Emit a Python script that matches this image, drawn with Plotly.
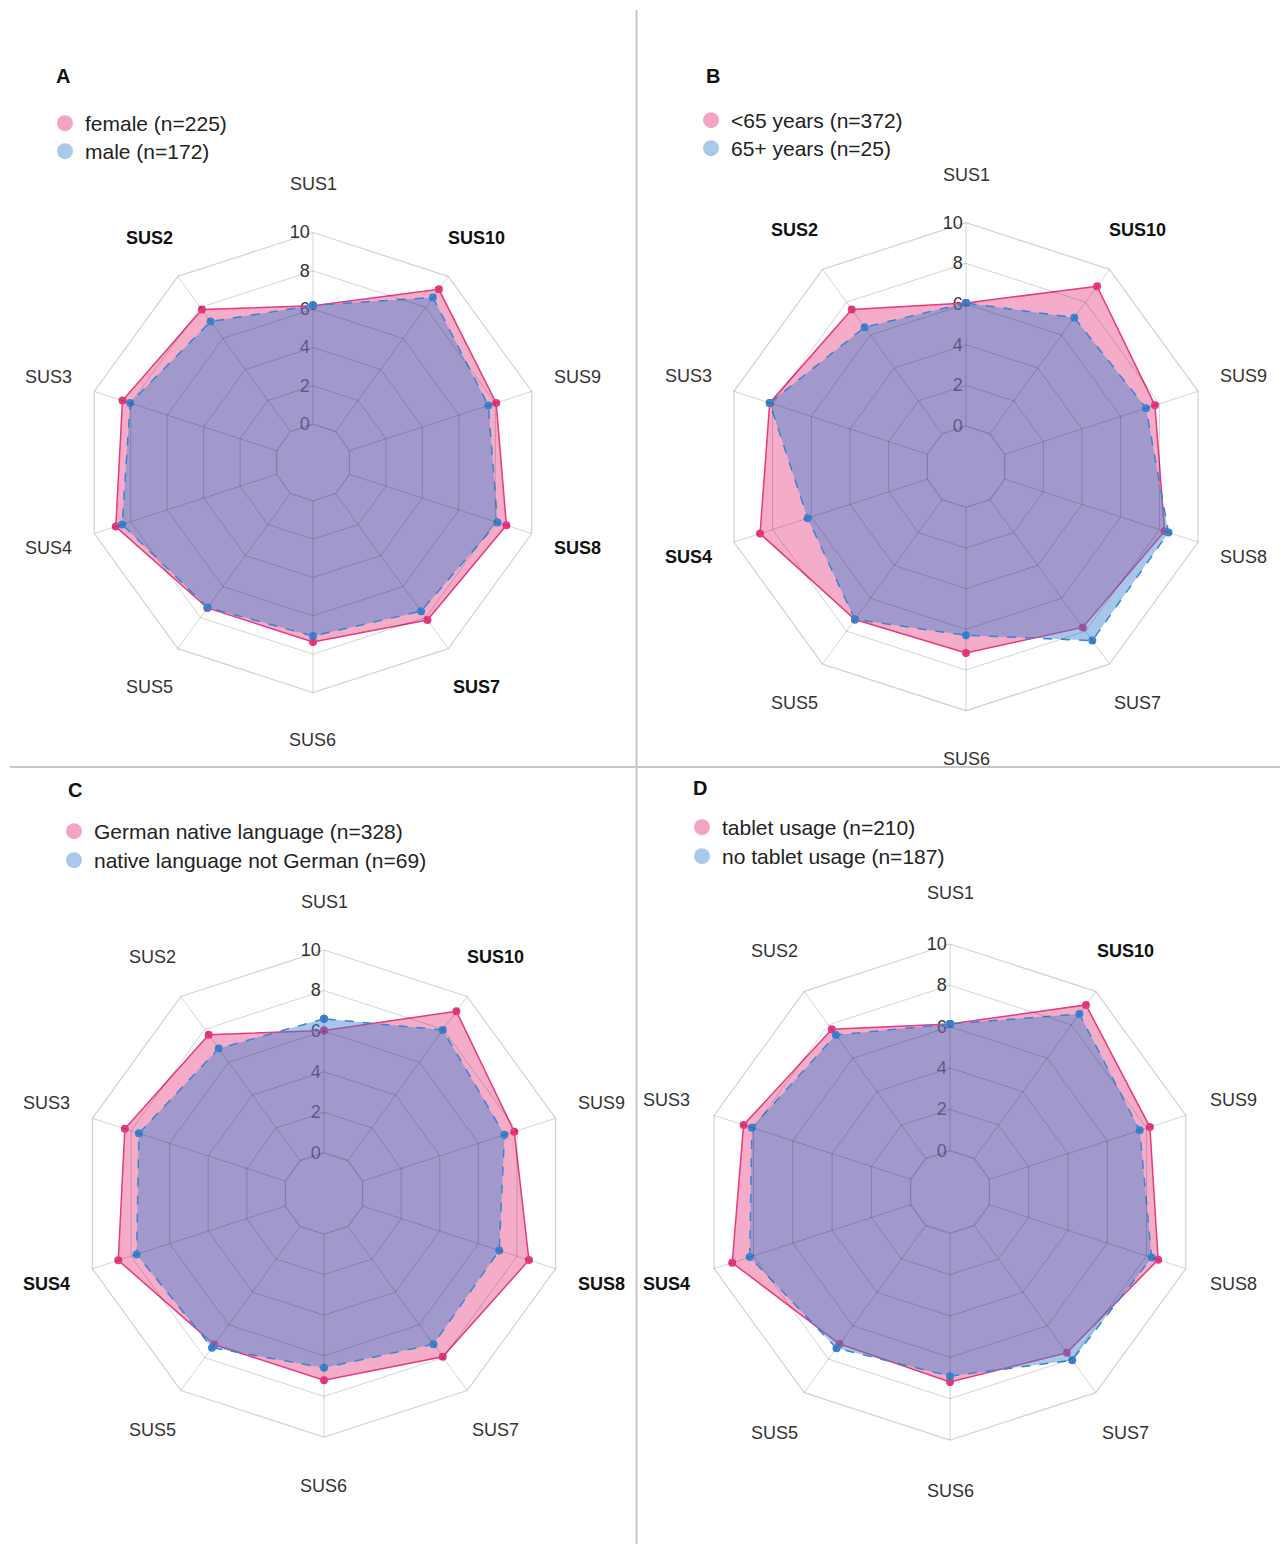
import plotly.graph_objects as go
import math

# SUS item labels (angular categories)
categories = ["SUS1", "SUS2", "SUS3", "SUS4", "SUS5", "SUS6", "SUS7", "SUS8", "SUS9", "SUS10"]
radial_ticks = [0, 2, 4, 6, 8, 10]

# Mean item scores per subgroup
female = [6.18, 7.86, 8.45, 8.82, 7.38, 7.36, 8.16, 8.61, 8.05, 9.17]
male = [6.20, 7.09, 8.03, 8.47, 7.35, 7.05, 7.59, 8.12, 7.62, 8.64]

under_65 = [6.05, 7.56, 8.15, 8.65, 7.29, 7.16, 7.77, 8.27, 7.77, 8.97]
over_65 = [6.05, 6.48, 8.15, 6.19, 7.29, 6.29, 8.57, 8.47, 7.31, 7.06]

german_native = [6.03, 7.67, 8.32, 8.66, 7.20, 7.20, 7.95, 8.62, 7.86, 9.10]
not_german_native = [6.61, 6.83, 7.59, 7.71, 7.39, 6.59, 7.18, 7.08, 7.35, 7.96]

tablet_usage = [6.13, 7.73, 8.50, 9.08, 7.09, 7.19, 7.62, 8.59, 8.17, 9.19]
no_tablet_usage = [6.13, 7.39, 8.08, 8.19, 7.34, 6.91, 8.06, 8.26, 7.65, 8.65]

# Group names shown in the legends
names_a = ["female (n=225)", "male (n=172)"]
names_b = ["<65 years (n=372)", "65+ years (n=25)"]
names_c = ["German native language (n=328)", "native language not German (n=69)"]
names_d = ["tablet usage (n=210)", "no tablet usage (n=187)"]

# Items with a significant group difference (drawn in bold)
bold_a = ["SUS2", "SUS7", "SUS8", "SUS10"]
bold_b = ["SUS2", "SUS4", "SUS10"]
bold_c = ["SUS4", "SUS8", "SUS10"]
bold_d = ["SUS4", "SUS10"]

W, H = 1282, 1544

PINK = "#e6397f"
PINK_FILL = "rgba(230,57,127,0.42)"
PINK_LEGEND = "#f4a3c4"
BLUE = "#3b82d0"
BLUE_FILL = "rgba(59,130,208,0.45)"
BLUE_LEGEND = "#a9c8ec"
GRID = "rgba(0,0,0,0.17)"
FONT = "Liberation Sans, Arial, sans-serif"

# radial scale: the centre sits two units below zero, so the 0 ring is an inner decagon
R_MIN, R_MAX = -2, 10
GRID_HOLE = (0 - R_MIN) / (R_MAX - R_MIN)
inner_rings = [2, 4, 6, 8]   # the 0 and 10 rings come from the web's inner/outer border

# Panel layout: centre / radius of each radar (px), legend rows and letter placement
panels = [
    dict(letter="A", names=names_a, data=(female, male), bold=bold_a,
         cx=313, cy=462.5, R=230, label_gap=48, letter_xy=(63, 76),
         legend_rows=[(45, 103), (45, 131)]),
    dict(letter="B", names=names_b, data=(under_65, over_65), bold=bold_b,
         cx=966, cy=466.7, R=244, label_gap=48, letter_xy=(713, 76),
         legend_rows=[(691, 100), (691, 128)]),
    dict(letter="C", names=names_c, data=(german_native, not_german_native), bold=bold_c,
         cx=324, cy=1193.5, R=243.5, label_gap=48.5, letter_xy=(75, 790),
         legend_rows=[(54, 811), (54, 840)]),
    dict(letter="D", names=names_d, data=(tablet_usage, no_tablet_usage), bold=bold_d,
         cx=950, cy=1192, R=248, label_gap=50.5, letter_xy=(700, 788),
         legend_rows=[(682, 807), (682, 836)]),
]

fig = go.Figure()
annotations = []
layout_extra = {}
n = len(panels)

for i, p in enumerate(panels):
    sub = "polar" if i == 0 else f"polar{i + 1}"
    grid_sub = f"polar{i + 1 + n}"
    first, second = p["data"]
    cx, cy, R = p["cx"], p["cy"], p["R"]
    domain = dict(x=[(cx - R) / W, (cx + R) / W], y=[1 - (cy + R) / H, 1 - (cy - R) / H])

    theta = categories + [categories[0]]
    fig.add_trace(go.Scatterpolar(
        r=first + [first[0]], theta=theta, subplot=sub, mode="lines+markers",
        fill="toself", fillcolor=PINK_FILL,
        line=dict(color=PINK, width=1.5), marker=dict(color=PINK, size=8),
        name=p["names"][0], showlegend=False))
    fig.add_trace(go.Scatterpolar(
        r=second + [second[0]], theta=theta, subplot=sub, mode="lines+markers",
        fill="toself", fillcolor=BLUE_FILL,
        line=dict(color=BLUE, width=1.5, dash="dash"), marker=dict(color=BLUE, size=8),
        name=p["names"][1], showlegend=False))

    # legend entries with round swatches (one legend box per row)
    for j, (name, col) in enumerate(zip(p["names"], (PINK_LEGEND, BLUE_LEGEND))):
        leg_idx = 2 * i + j + 1
        leg = "legend" if leg_idx == 1 else f"legend{leg_idx}"
        fig.add_trace(go.Scatterpolar(
            r=[None], theta=[None], subplot=grid_sub, mode="markers",
            marker=dict(color=col, size=18), name=name, legend=leg, showlegend=True,
            hoverinfo="skip"))
        lx, ly = p["legend_rows"][j]
        layout_extra[leg] = dict(x=lx / W, y=1 - ly / H, xanchor="left", yanchor="top",
                                 bgcolor="rgba(0,0,0,0)", borderwidth=0,
                                 font=dict(family=FONT, size=21, color="#222222"),
                                 itemsizing="trace")

    # data subplot: traces plus the radial tick numbers
    layout_extra[sub] = dict(
        domain=domain, bgcolor="rgba(0,0,0,0)", gridshape="linear",
        radialaxis=dict(range=[R_MIN, R_MAX], tickvals=radial_ticks, angle=90,
                        tickangle=90, side="counterclockwise", showline=False,
                        showgrid=False, ticks="", layer="below traces",
                        tickfont=dict(family=FONT, size=18, color="#333333")),
        angularaxis=dict(type="category", categoryarray=categories,
                         direction="counterclockwise", rotation=90,
                         showticklabels=False, ticks="", showline=False, showgrid=False),
    )
    # web of grid lines drawn over the filled areas
    layout_extra[grid_sub] = dict(
        domain=domain, bgcolor="rgba(0,0,0,0)", gridshape="linear", hole=GRID_HOLE,
        radialaxis=dict(range=[0, R_MAX], tickvals=inner_rings, angle=90,
                        showline=False, showticklabels=False, ticks="",
                        gridcolor=GRID, gridwidth=1.3),
        angularaxis=dict(type="category", categoryarray=categories,
                         direction="counterclockwise", rotation=90,
                         showticklabels=False, ticks="", showline=True,
                         linecolor=GRID, linewidth=1.3, gridcolor=GRID, gridwidth=1.3),
    )

    # item labels around each radar
    lr = R + p["label_gap"]
    for k, cat in enumerate(categories):
        ang = math.radians(90 + 36 * k)
        x = cx + lr * math.cos(ang)
        y = cy - lr * math.sin(ang)
        is_bold = cat in p["bold"]
        annotations.append(dict(
            x=x / W, y=1 - y / H, xref="paper", yref="paper",
            xanchor="center", yanchor="middle", showarrow=False,
            text=f"<b>{cat}</b>" if is_bold else cat,
            font=dict(family=FONT, size=18, color="#111111" if is_bold else "#333333")))

    lx2, ly2 = p["letter_xy"]
    annotations.append(dict(
        x=lx2 / W, y=1 - ly2 / H, xref="paper", yref="paper",
        xanchor="center", yanchor="middle", showarrow=False,
        text=f"<b>{p['letter']}</b>", font=dict(family=FONT, size=20, color="#111111")))

# divider lines between panels
shapes = [
    dict(type="line", xref="paper", yref="paper", x0=636.5 / W, x1=636.5 / W,
         y0=0, y1=1 - 10 / H, line=dict(color="#c8c8c8", width=2)),
    dict(type="line", xref="paper", yref="paper", x0=10 / W, x1=1280 / W,
         y0=1 - 767 / H, y1=1 - 767 / H, line=dict(color="#c8c8c8", width=2)),
]

fig.update_layout(
    width=W, height=H,
    margin=dict(l=0, r=0, t=0, b=0),
    paper_bgcolor="white", plot_bgcolor="white",
    font=dict(family=FONT),
    annotations=annotations, shapes=shapes,
    **layout_extra,
)

fig.write_html("out.html")
